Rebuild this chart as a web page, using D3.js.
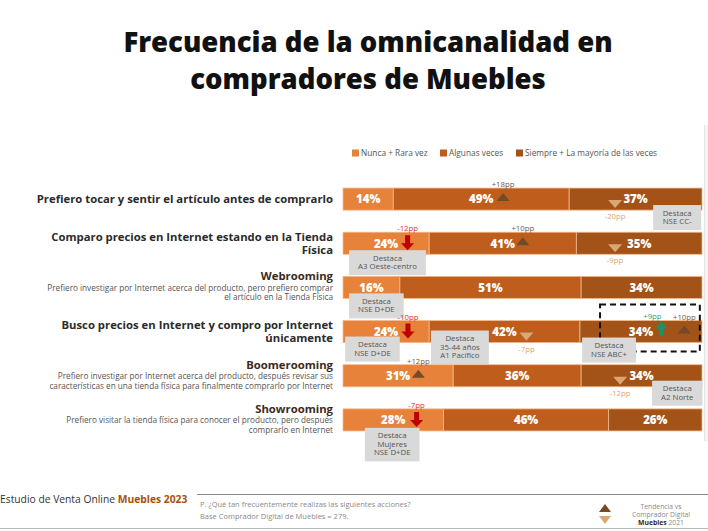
<!DOCTYPE html>
<html><head><meta charset="utf-8">
<script src="https://cdn.jsdelivr.net/npm/d3@7"></script>
<style>body{margin:0;background:#fff;} svg{display:block;font-family:"Open Sans",sans-serif;}</style>
</head><body><svg id="c" width="708" height="531"></svg>
<script>
// ---------- data ----------
const titleLines = ["Frecuencia de la omnicanalidad en", "compradores de Muebles"];
const seriesNames = ["Nunca + Rara vez", "Algunas veces", "Siempre + La mayoría de las veces"];
const rowKeys = ["tocar", "comparo", "web", "busco", "boomer", "show"];
const rowTitles = [
  ["Prefiero tocar y sentir el artículo antes de comprarlo"],
  ["Comparo precios en Internet estando en la Tienda", "Física"],
  ["Webrooming"],
  ["Busco precios en Internet y compro por Internet", "únicamente"],
  ["Boomerooming"],
  ["Showrooming"]
];
const rowSubtitles = [
  [],
  [],
  ["Prefiero investigar por Internet acerca del producto, pero prefiero comprar", "el artículo en la Tienda Física"],
  [],
  ["Prefiero investigar por Internet acerca del producto, después revisar sus", "características en una tienda física para finalmente comprarlo por Internet"],
  ["Prefiero visitar la tienda física para conocer el producto, pero después", "comprarlo en Internet"]
];
const nunca   = [14, 24, 16, 24, 31, 28];
const algunas = [49, 41, 51, 42, 36, 46];
const siempre = [37, 35, 34, 34, 34, 26];

// trend markers: row, position along bar (%), kind, label
const trends = [
  {row: 0, at: 44.6, kind: "up",      label: "+18pp"},
  {row: 0, at: 75.8, kind: "down",    label: "-20pp"},
  {row: 1, at: 18.0, kind: "redDown", label: "-12pp"},
  {row: 1, at: 50.1, kind: "up",      label: "+10pp"},
  {row: 1, at: 75.8, kind: "down",    label: "-9pp"},
  {row: 3, at: 18.1, kind: "redDown", label: "-10pp"},
  {row: 3, at: 51.1, kind: "down",    label: "-7pp"},
  {row: 3, at: 88.7, kind: "greenUp", label: "+9pp"},
  {row: 3, at: 95.1, kind: "up",      label: "+10pp"},
  {row: 4, at: 21.0, kind: "up",      label: "+12pp"},
  {row: 4, at: 77.2, kind: "down",    label: "-12pp"},
  {row: 5, at: 20.5, kind: "redDown", label: "-7pp"}
];
// "Destaca" notes: row, left position along bar (%), text lines
const notes = [
  {row: 0, at: 86.4, lines: ["Destaca", "NSE CC-"]},
  {row: 1, at: 1.7,  lines: ["Destaca", "A3 Oeste-centro"]},
  {row: 2, at: 1.7,  lines: ["Destaca", "NSE D+DE"]},
  {row: 3, at: 0.6,  lines: ["Destaca", "NSE D+DE"]},
  {row: 3, at: 24.5, lines: ["Destaca", "35-44 años", "A1 Pacífico"]},
  {row: 3, at: 66.6, lines: ["Destaca", "NSE ABC+"]},
  {row: 4, at: 86.1, lines: ["Destaca", "A2 Norte"]},
  {row: 5, at: 6.1,  lines: ["Destaca", "Mujeres", "NSE D+DE"]}
];
const highlightRow = 3; const highlightFrom = 71.6; const highlightTo = 99.4;
const footerStudy = ["Estudio de Venta Online ", "Muebles 2023"];
const footerQuestion = ["P. ¿Qué tan frecuentemente realizas las siguientes acciones?", "Base Comprador Digital de Muebles = 279."];
const footerLegend = ["Tendencia vs", "Comprador Digital"];
const footerLegendLast = ["Muebles", " 2021"];

// ---------- layout ----------
const noteTopOffsets = [17, 18, 17, 16, 10, 17, 16, 19]; // px below band top, per note

// ---------- drawing ----------
const svg = d3.select("#c");
const colors = ["#E6823A", "#BF5E1C", "#A35218"];
const x = d3.scaleLinear().domain([0, 100]).range([343, 702]);
const y = d3.scaleBand().domain(rowKeys).range([177, 442]).paddingInner(0.5).paddingOuter(0.25);
const color = d3.scaleOrdinal().domain(seriesNames).range(colors);

// title
svg.append("g").selectAll("text").data(titleLines).join("text")
  .attr("x", 368).attr("y", (d, i) => 52 + i * 37)
  .attr("text-anchor", "middle").attr("font-size", 27.5).attr("font-weight", 800)
  .attr("fill", "#111").text(d => d);

// legend
const legX = [352, 440, 516];
const leg = svg.append("g").selectAll("g").data(seriesNames).join("g")
  .attr("transform", (d, i) => `translate(${legX[i]},153)`);
leg.append("rect").attr("x", 0).attr("y", -3.5).attr("width", 7).attr("height", 7).attr("fill", d => color(d));
leg.append("text").attr("x", 9).attr("y", 3).attr("font-size", 8.3).attr("fill", "#555").text(d => d);

// faint right-side panel
svg.append("rect").attr("x", 704).attr("y", 125).attr("width", 4).attr("height", 316).attr("fill", "#f4f4f4");
svg.append("line").attr("x1", 704.5).attr("x2", 704.5).attr("y1", 125).attr("y2", 441).attr("stroke", "#e4e4e4");

// stacked bars
const table = rowKeys.map((k, i) => {
  const vals = [nunca[i], algunas[i], siempre[i]];
  const total = d3.sum(vals);
  let acc = 0;
  return vals.map((v, j) => { const s = acc; acc += v; return {key: k, s: s / total * 100, e: acc / total * 100, v, series: seriesNames[j]}; });
});
const rows = svg.append("g").selectAll("g").data(table).join("g");
rows.selectAll("rect").data(d => d).join("rect")
  .attr("x", d => x(d.s)).attr("y", d => y(d.key))
  .attr("width", d => x(d.e) - x(d.s)).attr("height", y.bandwidth())
  .attr("fill", d => color(d.series))
  .attr("stroke", "#F2B98C").attr("stroke-width", 0.8);
rows.selectAll("text").data(d => d).join("text")
  .attr("x", d => (x(d.s) + x(d.e)) / 2).attr("y", d => y(d.key) + y.bandwidth() / 2 + 4.3)
  .attr("text-anchor", "middle").attr("font-size", 11.5).attr("font-weight", 800).attr("fill", "#fff")
  .text(d => d.v + "%");

// row labels
rowKeys.forEach((k, i) => {
  const c = y(k) + y.bandwidth() / 2;
  const t = rowTitles[i], s = rowSubtitles[i];
  const g = svg.append("g").attr("text-anchor", "end");
  if (s.length === 0) {
    const start = c - (t.length - 1) * 13.5 / 2;
    t.forEach((line, j) => g.append("text").attr("x", 333).attr("y", start + j * 13.5 + 4)
      .attr("font-size", 11.3).attr("font-weight", 700).attr("fill", "#2b2b2b").text(line));
  } else {
    g.append("text").attr("x", 333).attr("y", c - 7)
      .attr("font-size", 11.3).attr("font-weight", 700).attr("fill", "#3d2a1c").text(t[0]);
    s.forEach((line, j) => g.append("text").attr("x", 333).attr("y", c + 3.5 + j * 9.5)
      .attr("font-size", 8.2).attr("fill", "#555").text(line));
  }
});

// highlight dashed box
svg.append("rect")
  .attr("x", x(highlightFrom)).attr("y", y(rowKeys[highlightRow]) - 16)
  .attr("width", x(highlightTo) - x(highlightFrom)).attr("height", 47)
  .attr("fill", "none").attr("stroke", "#111").attr("stroke-width", 2).attr("stroke-dasharray", "6,4");

// notes (gray boxes)
const ng = svg.append("g");
notes.forEach((n, ni) => {
  const top = y(rowKeys[n.row]) + noteTopOffsets[ni];
  const g = ng.append("g");
  const texts = n.lines.map((l, j) => g.append("text").attr("font-size", 7.8).attr("fill", "#555").attr("text-anchor", "middle").text(l));
  const w = Math.max(48, d3.max(texts, t => t.node().getComputedTextLength()) + 18);
  const h = 8 + n.lines.length * 8.5;
  const left = x(n.at);
  g.insert("rect", "text").attr("x", left).attr("y", top).attr("width", w).attr("height", h).attr("fill", "#D9D9D9");
  texts.forEach((t, j) => t.attr("x", left + w / 2).attr("y", top + 10.5 + j * 8.5));
});

// trend markers
const tg = svg.append("g");
const markerColor = {up: "#744A28", down: "#D9A774", redDown: "#C00000", greenUp: "#13946A"};
const labelColor = {up: "#6E5B4E", down: "#E3A470", redDown: "#E0302A", greenUp: "#22A77A"};
trends.forEach(t => {
  const T = y(rowKeys[t.row]);
  const cx = x(t.at);
  let path, ly;
  if (t.kind === "up") {
    const m = T + 9;
    path = `M${cx - 6.5},${m + 4}L${cx + 6.5},${m + 4}L${cx},${m - 4}Z`; ly = T - 4;
  } else if (t.kind === "down") {
    const m = T + 16;
    path = `M${cx - 7},${m - 4}L${cx + 7},${m - 4}L${cx},${m + 4}Z`; ly = T + 28;
  } else if (t.kind === "redDown") {
    const a = T + 3, b = T + 18;
    path = `M${cx - 2.5},${a}L${cx + 2.5},${a}L${cx + 2.5},${a + 8}L${cx + 6.5},${a + 8}L${cx},${b}L${cx - 6.5},${a + 8}L${cx - 2.5},${a + 8}Z`; ly = T - 4;
  } else {
    const a = T + 1, b = T + 15;
    path = `M${cx - 2.5},${b}L${cx + 2.5},${b}L${cx + 2.5},${a + 7}L${cx + 6.5},${a + 7}L${cx},${a}L${cx - 6.5},${a + 7}L${cx - 2.5},${a + 7}Z`; ly = T - 5;
  }
  tg.append("path").attr("d", path).attr("fill", markerColor[t.kind]);
  tg.append("text").attr("x", t.kind === "greenUp" ? cx - 9 : cx).attr("y", ly + 3)
    .attr("text-anchor", "middle").attr("font-size", 7.8).attr("fill", labelColor[t.kind]).text(t.label);
});

// footer
const ft = svg.append("text").attr("x", 0).attr("y", 503).attr("font-size", 10.3).attr("fill", "#333");
ft.append("tspan").text(footerStudy[0]);
ft.append("tspan").attr("font-weight", 700).attr("fill", "#A5520F").text(footerStudy[1]);
svg.append("line").attr("x1", 197).attr("x2", 708).attr("y1", 494.5).attr("y2", 494.5).attr("stroke", "#8a8a8a").attr("stroke-width", 1);
svg.append("line").attr("x1", 0).attr("x2", 708).attr("y1", 528.5).attr("y2", 528.5).attr("stroke", "#bbb").attr("stroke-width", 1);
svg.append("g").selectAll("text").data(footerQuestion).join("text")
  .attr("x", 200).attr("y", (d, i) => 507 + i * 12).attr("font-size", 7.5).attr("fill", "#8a8a8a").text(d => d);
svg.append("path").attr("d", "M599,512L611,512L605,504Z").attr("fill", "#744A28");
svg.append("path").attr("d", "M599,516L611,516L605,524Z").attr("fill", "#D9A774");
svg.append("g").selectAll("text").data(footerLegend).join("text")
  .attr("x", 661).attr("y", (d, i) => 509 + i * 8).attr("text-anchor", "middle")
  .attr("font-size", 6.8).attr("fill", "#8a8a8a").text(d => d);
const fl = svg.append("text").attr("x", 661).attr("y", 525).attr("text-anchor", "middle").attr("font-size", 6.8).attr("fill", "#8a8a8a");
fl.append("tspan").attr("font-weight", 700).attr("fill", "#3a2a1c").text(footerLegendLast[0]);
fl.append("tspan").text(footerLegendLast[1]);
</script></body></html>
